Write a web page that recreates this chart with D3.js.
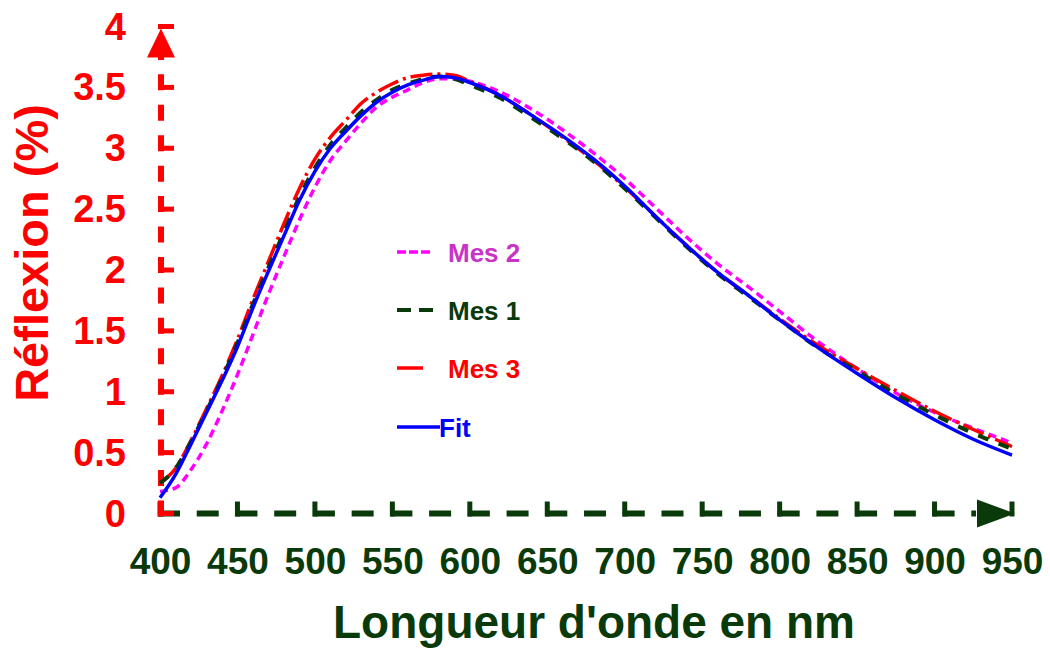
<!DOCTYPE html>
<html>
<head>
<meta charset="utf-8">
<script src="https://cdn.jsdelivr.net/npm/d3@7"></script>
<style>
  html, body { margin: 0; padding: 0; background: #ffffff; }
  svg { display: block; }
  text { font-family: "Liberation Sans", Arial, sans-serif; font-weight: bold; }
</style>
</head>
<body>
<svg id="chart" width="1050" height="648"></svg>
<script>
// ---- data ----
const wavelengths = [400,410,420,430,440,450,460,470,480,490,500,510,520,530,540,550,560,570,580,590,600,
                     620,640,660,680,700,720,740,760,780,800,825,850,875,900,925,950];
const mes2 = [0.18,0.21,0.36,0.57,0.84,1.14,1.47,1.80,2.11,2.41,2.68,2.90,3.06,3.21,3.34,3.42,3.48,3.54,3.57,3.57,3.55,
              3.46,3.32,3.15,2.96,2.75,2.51,2.27,2.05,1.86,1.66,1.41,1.19,0.99,0.83,0.70,0.58];
const mes1 = [0.25,0.37,0.59,0.84,1.11,1.40,1.72,2.02,2.31,2.60,2.84,3.03,3.17,3.30,3.40,3.48,3.53,3.57,3.59,3.57,3.52,
              3.41,3.25,3.08,2.89,2.67,2.43,2.19,1.97,1.78,1.59,1.36,1.17,0.98,0.81,0.66,0.53];
const mes3 = [0.25,0.37,0.60,0.86,1.13,1.43,1.76,2.07,2.38,2.67,2.91,3.09,3.23,3.37,3.46,3.53,3.58,3.60,3.61,3.60,3.55,
              3.43,3.27,3.09,2.90,2.68,2.44,2.20,1.98,1.79,1.60,1.38,1.19,1.01,0.84,0.69,0.55];
const fit  = [0.13,0.32,0.57,0.83,1.09,1.37,1.69,1.99,2.28,2.57,2.81,3.00,3.14,3.27,3.38,3.46,3.52,3.56,3.59,3.58,3.54,
              3.43,3.27,3.10,2.91,2.69,2.44,2.20,1.98,1.79,1.59,1.36,1.15,0.95,0.77,0.61,0.48];
const xTicks = [400,450,500,550,600,650,700,750,800,850,900,950];
const yTicks = [0,0.5,1,1.5,2,2.5,3,3.5,4];
const yTickLabels = ["0","0.5","1","1.5","2","2.5","3","3.5","4"];
const seriesNames = ["Mes 2","Mes 1","Mes 3","Fit"];

// ---- styles ----
const GREEN = "#0a3a0a", RED = "#ff0000", MAG = "#ff00ff", BLUE = "#0000ff";
const series = [
  {name: "Mes 2", values: mes2, color: MAG,  width: 3.5, dash: "8,5",        text: "#c833c8", lx2: 433},
  {name: "Mes 3", values: mes3, color: RED,  width: 3.5, dash: "22,5,3,5",   text: RED,       lx2: 423},
  {name: "Mes 1", values: mes1, color: GREEN,width: 4,   dash: "11,11",      text: GREEN,     lx2: 433},
  {name: "Fit",   values: fit,  color: BLUE, width: 3.5, dash: null,         text: BLUE,      lx2: 440}
];

const svg = d3.select("#chart");
svg.append("rect").attr("width",1050).attr("height",648).attr("fill","#fff");

const x = d3.scaleLinear().domain([400,950]).range([160,1012]);
const y = d3.scaleLinear().domain([0,4]).range([513.5,26.5]);

// ---- x axis (dark green dashed with arrow) ----
const halfStep = x(425) - x(400);
svg.append("line")
  .attr("x1", x(400) - 2).attr("x2", x(950) - 36)
  .attr("y1", y(0)).attr("y2", y(0))
  .attr("stroke", GREEN).attr("stroke-width", 6)
  .attr("stroke-dasharray", `22,${(halfStep - 22).toFixed(2)}`);
svg.append("g").selectAll("line").data(xTicks).join("line")
  .attr("x1", d => x(d)).attr("x2", d => x(d))
  .attr("y1", y(0) + 3).attr("y2", y(0) - 12)
  .attr("stroke", GREEN).attr("stroke-width", 5);
svg.append("path")
  .attr("d", `M${x(950)-35},${y(0)-14} L${x(950)+3},${y(0)} L${x(950)-35},${y(0)+14} Z`)
  .attr("fill", GREEN);

const xAxis = d3.axisBottom(x).tickValues(xTicks).tickSize(0).tickPadding(0).tickFormat(d3.format("d"));
const gx = svg.append("g").attr("transform", `translate(0,${y(0)})`).call(xAxis);
gx.select(".domain").remove();
gx.selectAll("text")
  .attr("y", 60).attr("dy", null)
  .attr("fill", GREEN).style("font-size", "37px")
  .style("font-family", "'Liberation Sans', Arial, sans-serif").style("font-weight", "bold");

// ---- y axis (red dashed with arrow) ----
const yHalf = y(0) - y(0.25);
svg.append("line")
  .attr("x1", x(400) + 1).attr("x2", x(400) + 1)
  .attr("y1", y(0) + 3).attr("y2", y(4) + 30)
  .attr("stroke", RED).attr("stroke-width", 6)
  .attr("stroke-dasharray", `16,${(yHalf - 16).toFixed(2)}`);
svg.append("g").selectAll("line").data(yTicks).join("line")
  .attr("x1", x(400) - 2).attr("x2", x(400) + 14)
  .attr("y1", d => y(d)).attr("y2", d => y(d))
  .attr("stroke", RED).attr("stroke-width", 5);
svg.append("path")
  .attr("d", `M${x(400)-13},${y(4)+31} L${x(400)+1},${y(4)+2} L${x(400)+15},${y(4)+31} Z`)
  .attr("fill", RED);

const yAxis = d3.axisLeft(y).tickValues(yTicks).tickSize(0).tickPadding(0)
  .tickFormat((d, i) => yTickLabels[i]);
const gy = svg.append("g").attr("transform", `translate(126,0)`).call(yAxis);
gy.select(".domain").remove();
gy.selectAll("text")
  .attr("x", 0).attr("dy", "0.33em")
  .attr("fill", RED).style("font-size", "38px")
  .style("font-family", "'Liberation Sans', Arial, sans-serif").style("font-weight", "bold");

// ---- titles ----
svg.append("text")
  .attr("transform", "translate(48,253) rotate(-90)")
  .attr("text-anchor", "middle")
  .attr("fill", RED).style("font-size", "47px")
  .text("Réflexion (%)");
svg.append("text")
  .attr("x", 594).attr("y", 638)
  .attr("text-anchor", "middle")
  .attr("fill", GREEN).style("font-size", "46px")
  .text("Longueur d'onde en nm");

// ---- curves ----
const line = d3.line().x(d => x(d[0])).y(d => y(d[1])).curve(d3.curveMonotoneX);
series.forEach(s => {
  svg.append("path")
    .datum(wavelengths.map((w, i) => [w, s.values[i]]))
    .attr("d", line)
    .attr("fill", "none")
    .attr("stroke", s.color)
    .attr("stroke-width", s.width)
    .attr("stroke-dasharray", s.dash);
});

// ---- legend ----
const legendY = [252, 310, 368, 427];
const legendOrder = ["Mes 2","Mes 1","Mes 3","Fit"];
legendOrder.forEach((name, i) => {
  const s = series.find(d => d.name === name);
  svg.append("line")
    .attr("x1", 397).attr("x2", s.lx2)
    .attr("y1", legendY[i]).attr("y2", legendY[i])
    .attr("stroke", s.color).attr("stroke-width", s.width)
    .attr("stroke-dasharray", name === "Mes 2" ? "9,3" : name === "Mes 1" ? "14,8" : null);
  svg.append("text")
    .attr("x", name === "Fit" ? 439 : 448).attr("y", legendY[i] + 9.5)
    .attr("fill", s.text).style("font-size", "26px")
    .text(name);
});
</script>
</body>
</html>
